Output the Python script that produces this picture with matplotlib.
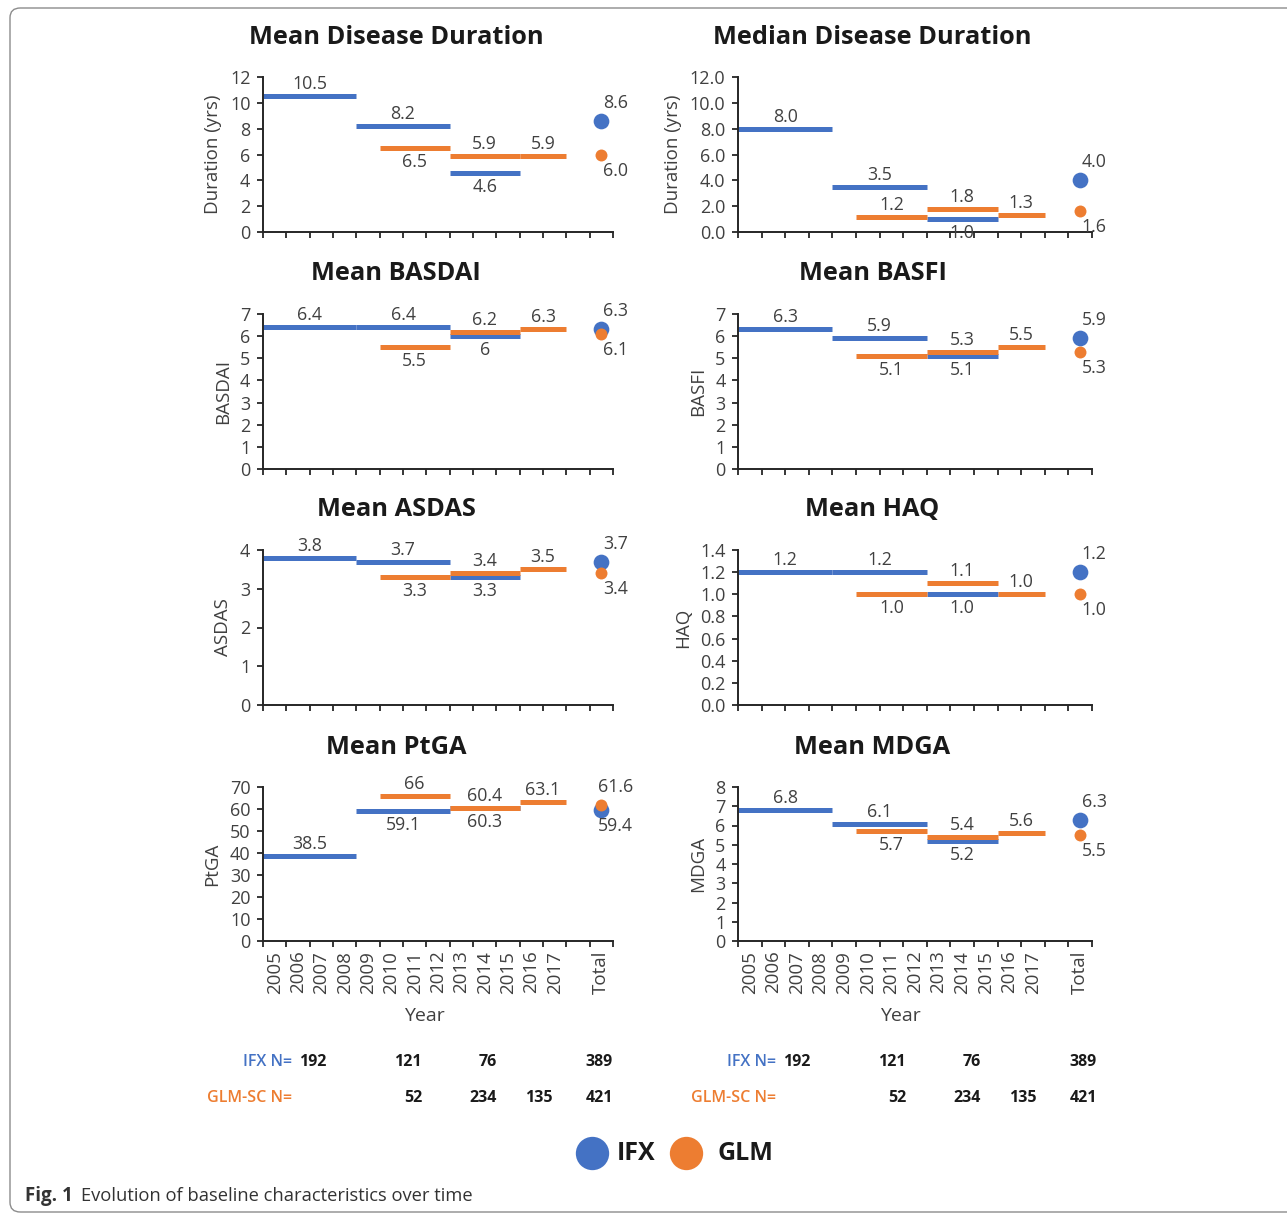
import matplotlib
matplotlib.use("Agg")
import matplotlib.pyplot as plt
import numpy as np
from matplotlib.patches import FancyBboxPatch
from matplotlib.lines import Line2D

plt.rcParams['font.family'] = ['Open Sans', 'DejaVu Sans']

W, H = 1287, 1214
BLUE = '#4472C4'
ORANGE = '#ED7D31'
TXT = '#404040'

# --- data ---
categories = ['2005', '2006', '2007', '2008', '2009', '2010', '2011', '2012',
              '2013', '2014', '2015', '2016', '2017', '', 'Total']
ifx_periods = [('2005', '2008'), ('2009', '2012'), ('2013', '2015')]
glm_periods = [('2010', '2012'), ('2013', '2015'), ('2016', '2017')]

titles = ['Mean Disease Duration', 'Median Disease Duration', 'Mean BASDAI', 'Mean BASFI',
          'Mean ASDAS', 'Mean HAQ', 'Mean PtGA', 'Mean MDGA']
ylabels = ['Duration (yrs)', 'Duration (yrs)', 'BASDAI', 'BASFI', 'ASDAS', 'HAQ', 'PtGA', 'MDGA']

# three periods then Total, as printed in the figure
mean_dur_ifx = ['10.5', '8.2', '4.6', '8.6']
mean_dur_glm = ['6.5', '5.9', '5.9', '6.0']
median_dur_ifx = ['8.0', '3.5', '1.0', '4.0']
median_dur_glm = ['1.2', '1.8', '1.3', '1.6']
basdai_ifx = ['6.4', '6.4', '6', '6.3']
basdai_glm = ['5.5', '6.2', '6.3', '6.1']
basfi_ifx = ['6.3', '5.9', '5.1', '5.9']
basfi_glm = ['5.1', '5.3', '5.5', '5.3']
asdas_ifx = ['3.8', '3.7', '3.3', '3.7']
asdas_glm = ['3.3', '3.4', '3.5', '3.4']
haq_ifx = ['1.2', '1.2', '1.0', '1.2']
haq_glm = ['1.0', '1.1', '1.0', '1.0']
ptga_ifx = ['38.5', '59.1', '60.3', '59.4']
ptga_glm = ['66', '60.4', '63.1', '61.6']
mdga_ifx = ['6.8', '6.1', '5.2', '6.3']
mdga_glm = ['5.7', '5.4', '5.6', '5.5']

n_ifx = ['192', '121', '76', '', '389']
n_glm = ['', '52', '234', '135', '421']

# --- layout / style (label side: a = above, b = below) ---
panels = [
    (mean_dur_ifx, mean_dur_glm, 'aaba', 'baab', 12, 2, 0),
    (median_dur_ifx, median_dur_glm, 'aaba', 'aaab', 12, 2, 1),
    (basdai_ifx, basdai_glm, 'aaba', 'baab', 7, 1, 0),
    (basfi_ifx, basfi_glm, 'aaba', 'baab', 7, 1, 0),
    (asdas_ifx, asdas_glm, 'aaba', 'baab', 4, 1, 0),
    (haq_ifx, haq_glm, 'aaba', 'baab', 1.4, 0.2, 1),
    (ptga_ifx, ptga_glm, 'abbb', 'aaaa', 70, 10, 0),
    (mdga_ifx, mdga_glm, 'aaba', 'baab', 8, 1, 0),
]
col_x = [(263, 350), (738, 354)]
row_y = [(77, 232), (314, 469), (550, 705), (787, 941)]

fig = plt.figure(figsize=(W / 100, H / 100), dpi=100)

# rounded frame around the figure
fig.add_artist(FancyBboxPatch((10 / W, 1 - 1212 / H), (W + 20) / W, (1212 - 8) / H,
                              boxstyle='round,pad=0,rounding_size=0.008',
                              transform=fig.transFigure, fill=False,
                              edgecolor='#8c8c8c', lw=1.0))


def draw_series(ax, vals, periods, color, side, msize):
    for (start, end), txt, s in zip(periods, vals[:3], side[:3]):
        x0 = categories.index(start)
        x1 = categories.index(end) + 1
        v = float(txt)
        ax.plot([x0, x1], [v, v], color=color, lw=3.6, solid_capstyle='butt', clip_on=False)
        dy = 12 if s == 'a' else -14
        ax.annotate(txt, ((x0 + x1) / 2, v), xytext=(0, dy * 0.72), textcoords='offset points',
                    ha='center', va='center', fontsize=12.8, color=TXT)
    # total dot
    xt = categories.index('Total') + 0.5
    v = float(vals[3])
    ax.plot([xt], [v], 'o', color=color, markersize=msize, markeredgewidth=0, clip_on=False)
    dy = 18 if side[3] == 'a' else -16
    ax.annotate(vals[3], (xt, v), xytext=(14 * 0.72, dy * 0.72), textcoords='offset points',
                ha='center', va='center', fontsize=12.8, color=TXT)


for i, (ifx, glm, s_ifx, s_glm, ymax, ystep, ydec) in enumerate(panels):
    r, c = divmod(i, 2)
    x0, w = col_x[c]
    top, bot = row_y[r]
    ax = fig.add_axes([x0 / W, 1 - bot / H, w / W, (bot - top) / H])
    draw_series(ax, ifx, ifx_periods, BLUE, s_ifx, 11.3)
    draw_series(ax, glm, glm_periods, ORANGE, s_glm, 8.6)

    ax.set_xlim(0, len(categories))
    ax.set_ylim(0, ymax)
    ax.set_xticks(range(len(categories) + 1))
    ax.set_xticklabels([])
    ax.set_xticks([k + 0.5 for k in range(len(categories))], minor=True)
    if r == 3:
        ax.set_xticklabels(categories, minor=True, rotation=90, fontsize=13.5, color=TXT)
        ax.set_xlabel('Year', fontsize=14, color=TXT)
        ax.xaxis.set_label_coords(0.46, -0.43)
    else:
        ax.set_xticklabels([], minor=True)
    yt = np.arange(0, ymax + ystep / 2, ystep)
    ax.set_yticks(yt)
    ax.set_yticklabels([f'{t:.{ydec}f}' for t in yt], fontsize=13, color=TXT)
    ax.set_ylabel(ylabels[i], fontsize=13.5, color=TXT, labelpad=6)

    for sp in ('top', 'right'):
        ax.spines[sp].set_visible(False)
    for sp in ('left', 'bottom'):
        ax.spines[sp].set_color('#262626')
        ax.spines[sp].set_linewidth(1.4)
    ax.tick_params(axis='both', which='major', direction='out', length=4, width=1.3,
                   color='#262626', pad=5)
    ax.tick_params(axis='x', which='minor', length=0, pad=7)
    ax.patch.set_visible(False)

    ax.annotate(titles[i], (0.38, 1), xycoords='axes fraction', xytext=(0, 40 * 0.72),
                textcoords='offset points', ha='center', va='center',
                fontsize=18.3, fontweight='bold', color='#1a1a1a')

# --- N table under the bottom panels ---
n_cols = [326, 422, 497, 553, 613]
for shift in (0, 484):
    fig.text((292 + shift) / W, 1 - 1062 / H, 'IFX N=', color=BLUE, fontsize=11.5,
             fontweight='semibold', ha='right', va='center')
    fig.text((292 + shift) / W, 1 - 1098 / H, 'GLM-SC N=', color=ORANGE, fontsize=11.5,
             fontweight='semibold', ha='right', va='center')
    for xc, a, b in zip(n_cols, n_ifx, n_glm):
        fig.text((xc + shift) / W, 1 - 1062 / H, a, fontsize=11.5, fontweight='bold',
                 color='#1a1a1a', ha='right', va='center')
        fig.text((xc + shift) / W, 1 - 1098 / H, b, fontsize=11.5, fontweight='bold',
                 color='#1a1a1a', ha='right', va='center')

# --- legend ---
for cx, label, lx, color in [(592, 'IFX', 617, BLUE), (686, 'GLM', 718, ORANGE)]:
    fig.add_artist(Line2D([cx / W], [1 - 1153 / H], marker='o', markersize=24,
                          markeredgewidth=0, color=color, transform=fig.transFigure))
    fig.text(lx / W, 1 - 1153 / H, label, fontsize=18, fontweight='bold',
             color='#1a1a1a', ha='left', va='center')

# --- caption ---
cap = fig.text(25 / W, 1 - 1196 / H, 'Fig. 1', fontsize=13.5, fontweight='bold',
               color='#333333', ha='left', va='center')
fig.add_artist(plt.Annotation('Evolution of baseline characteristics over time', (1, 0.5),
                              xycoords=cap, xytext=(6, 0), textcoords='offset points',
                              fontsize=13.2, color='#333333', ha='left', va='center'))

fig.savefig('out.png', dpi=100, facecolor='white')
